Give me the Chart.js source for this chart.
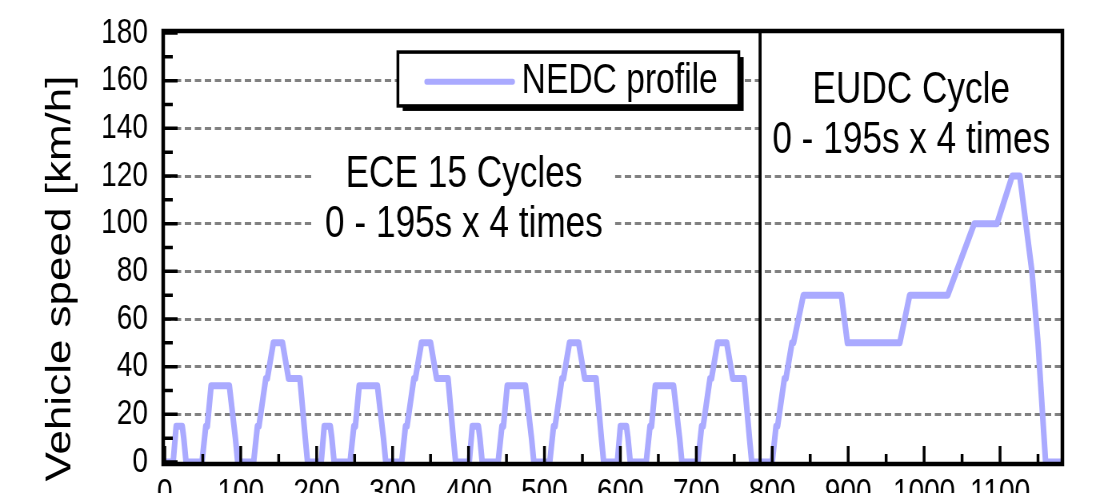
<!DOCTYPE html>
<html lang="en">
<head>
  <meta charset="UTF-8">
  <title>NEDC profile</title>
  <script src="https://cdn.jsdelivr.net/npm/chart.js@4.4.1/dist/chart.umd.min.js"></script>
  <style>
    html, body { margin: 0; padding: 0; background: #fff; overflow: hidden; }
    /* the original figure is squeezed sideways, so draw it wide and squeeze it */
    .squeeze { width: 1373px; height: 493px; transform: scaleX(0.8); transform-origin: 0 0; }
  </style>
</head>
<body>
  <div class="squeeze"><canvas id="nedc" width="1373" height="493"></canvas></div>

  <script>
    // ECE 15 part, four urban cycles: time [s] and speed [km/h] at each corner of the trace
    var eceTime = [
      0, 11, 15, 23, 25, 28, 49, 54, 56, 61, 85, 93, 96, 117, 122, 124, 133, 135, 143, 155, 163, 176, 178, 185, 188,
      195, 206, 210, 218, 220, 223, 244, 249, 251, 256, 280, 288, 291, 312, 317, 319, 328, 330, 338, 350, 358, 371, 373, 380, 383,
      390, 401, 405, 413, 415, 418, 439, 444, 446, 451, 475, 483, 486, 507, 512, 514, 523, 525, 533, 545, 553, 566, 568, 575, 578,
      585, 596, 600, 608, 610, 613, 634, 639, 641, 646, 670, 678, 681, 702, 707, 709, 718, 720, 728, 740, 748, 761, 763, 770, 773
    ];
    var eceSpeed = [
      0, 0, 15, 15, 10, 0, 0, 15, 15, 32, 32, 10, 0, 0, 15, 15, 35, 35, 50, 50, 35, 35, 35, 10, 0,
      0, 0, 15, 15, 10, 0, 0, 15, 15, 32, 32, 10, 0, 0, 15, 15, 35, 35, 50, 50, 35, 35, 35, 10, 0,
      0, 0, 15, 15, 10, 0, 0, 15, 15, 32, 32, 10, 0, 0, 15, 15, 35, 35, 50, 50, 35, 35, 35, 10, 0,
      0, 0, 15, 15, 10, 0, 0, 15, 15, 32, 32, 10, 0, 0, 15, 15, 35, 35, 50, 50, 35, 35, 35, 10, 0
    ];

    // EUDC (extra urban) part
    var eudcTime = [780, 800, 805, 807, 816, 818, 826, 828, 841, 891, 899, 968, 981, 1031, 1066, 1096, 1116, 1126, 1142, 1150, 1160, 1180];
    var eudcSpeed = [0, 0, 15, 15, 35, 35, 50, 50, 70, 70, 50, 50, 70, 70, 100, 100, 120, 120, 80, 50, 0, 0];

    var xTickValues = [0, 100, 200, 300, 400, 500, 600, 700, 800, 900, 1000, 1100];
    var yTickValues = [0, 20, 40, 60, 80, 100, 120, 140, 160, 180];
    var boundaryTime = 784;   // black line between the two parts

    var yTitle = 'Vehicle speed [km/h]';
    var eceCaption = ['ECE 15 Cycles', '0 - 195s x 4 times'];
    var eudcCaption = ['EUDC Cycle', '0 - 195s x 4 times'];

    var FONT = "'Liberation Sans', Arial, sans-serif";
    var LINE_COLOR = '#aaaaff';

    var points = [];
    for (var i = 0; i < eceTime.length; i++) points.push({ x: eceTime[i], y: eceSpeed[i] });
    for (var j = 0; j < eudcTime.length; j++) points.push({ x: eudcTime[j], y: eudcSpeed[j] });

    // frame, inward ticks, captions, axis title and the boxed legend
    var frameAndNotes = {
      id: 'frameAndNotes',
      beforeDatasetsDraw: function (chart) {
        var ctx = chart.ctx, sx = chart.scales.x, sy = chart.scales.y;
        var area = chart.chartArea;
        ctx.save();
        // captions sit on white, hiding the grid behind them
        ctx.fillStyle = '#fff';
        var l = sx.getPixelForValue(195), r = sx.getPixelForValue(593);
        var t = sy.getPixelForValue(135), b = sy.getPixelForValue(89);
        ctx.fillRect(l, t, r - l, b - t);
        l = sx.getPixelForValue(boundaryTime);
        t = sy.getPixelForValue(177); b = sy.getPixelForValue(125);
        ctx.fillRect(l, t, area.right - l, b - t);
        ctx.restore();
      },
      afterDatasetsDraw: function (chart) {
        var ctx = chart.ctx, sx = chart.scales.x, sy = chart.scales.y;
        var area = chart.chartArea;
        ctx.save();
        ctx.strokeStyle = '#000';

        // boundary between ECE and EUDC
        var bx = sx.getPixelForValue(boundaryTime);
        ctx.lineWidth = 3.75;
        ctx.beginPath();
        ctx.moveTo(bx, area.top);
        ctx.lineTo(bx, area.bottom);
        ctx.stroke();

        // inward tick marks
        ctx.lineWidth = 3.5;
        ctx.beginPath();
        for (var v = 0; v <= 180; v += 10) {
          var py = sy.getPixelForValue(v);
          ctx.moveTo(area.left, py);
          ctx.lineTo(area.left + (v % 20 === 0 ? 16 : 10), py);
        }
        for (var s = 0; s <= 1150; s += 50) {
          var px = sx.getPixelForValue(s);
          ctx.moveTo(px, area.bottom);
          ctx.lineTo(px, area.bottom - (s % 100 === 0 ? 16 : 8));
        }
        ctx.stroke();

        // plot frame, outside the data area
        ctx.lineWidth = 4.5;
        ctx.strokeRect(area.left - 2, area.top - 2, area.right - area.left + 4, area.bottom - area.top + 4);

        // y axis title, sits a little below the middle of the axis
        ctx.fillStyle = '#000';
        ctx.save();
        ctx.translate(area.left - 130, sy.getPixelForValue(77));
        ctx.rotate(-Math.PI / 2);
        ctx.font = '44px ' + FONT;
        ctx.textAlign = 'center';
        ctx.textBaseline = 'middle';
        ctx.fillText(yTitle, 0, 0);
        ctx.restore();

        // captions
        ctx.font = '44px ' + FONT;
        ctx.textAlign = 'center';
        ctx.textBaseline = 'alphabetic';
        ctx.fillText(eceCaption[0], sx.getPixelForValue(394), sy.getPixelForValue(115.5));
        ctx.fillText(eceCaption[1], sx.getPixelForValue(394), sy.getPixelForValue(94.6));
        ctx.fillText(eudcCaption[0], sx.getPixelForValue(983), sy.getPixelForValue(150.7));
        ctx.fillText(eudcCaption[1], sx.getPixelForValue(983), sy.getPixelForValue(129.8));

        // legend box with drop shadow
        var l = sx.getPixelForValue(307), r = sx.getPixelForValue(756);
        var t = sy.getPixelForValue(172), b = sy.getPixelForValue(149.4);
        ctx.fillRect(l + 6, t + 5, r - l, b - t);
        ctx.fillStyle = '#fff';
        ctx.fillRect(l, t, r - l, b - t);
        ctx.lineWidth = 3.5;
        ctx.strokeRect(l, t, r - l, b - t);

        var ds = chart.data.datasets[0];
        var ly = sy.getPixelForValue(159.5);
        ctx.strokeStyle = ds.borderColor;
        ctx.lineWidth = 6;
        ctx.lineCap = 'round';
        ctx.beginPath();
        ctx.moveTo(sx.getPixelForValue(345), ly);
        ctx.lineTo(sx.getPixelForValue(458), ly);
        ctx.stroke();

        ctx.fillStyle = '#000';
        ctx.font = '42px ' + FONT;
        ctx.textAlign = 'left';
        ctx.fillText(ds.label, sx.getPixelForValue(470), sy.getPixelForValue(154.9));
        ctx.restore();
      }
    };

    new Chart(document.getElementById('nedc'), {
      type: 'line',
      data: {
        datasets: [{
          label: 'NEDC profile',
          data: points,
          borderColor: LINE_COLOR,
          borderWidth: 7,
          borderJoinStyle: 'round',
          borderCapStyle: 'round',
          pointRadius: 0,
          tension: 0,
          fill: false
        }]
      },
      options: {
        responsive: false,
        animation: false,
        devicePixelRatio: 1,
        layout: { padding: { top: 33, right: 47, bottom: 0, left: 0 } },
        plugins: {
          legend: { display: false },
          tooltip: { enabled: false }
        },
        scales: {
          x: {
            type: 'linear',
            min: 0,
            max: 1180,
            afterBuildTicks: function (scale) {
              scale.ticks = xTickValues.map(function (v) { return { value: v }; });
            },
            afterFit: function (scale) { scale.height = 31; },
            grid: { display: false, drawTicks: false },
            border: { display: false },
            ticks: {
              padding: 10,
              autoSkip: false,
              maxRotation: 0,
              color: '#000',
              font: { family: FONT, size: 35 },
              callback: function (v) { return String(v); }
            }
          },
          y: {
            min: 0,
            max: 180,
            afterBuildTicks: function (scale) {
              scale.ticks = yTickValues.map(function (v) { return { value: v }; });
            },
            afterFit: function (scale) {
              scale.width = 206;
              // the label padding must not push the plot area in from top and bottom
              scale.paddingTop = 21;
              scale.paddingBottom = 21;
            },
            grid: {
              drawTicks: false,
              lineWidth: 3,
              color: function (c) {
                var v = c.tick ? c.tick.value : 0;
                return (v === 0 || v === 180) ? 'rgba(0,0,0,0)' : '#808080';
              }
            },
            border: { display: false, dash: [8, 4.5] },
            ticks: {
              padding: 21,
              color: '#000',
              font: { family: FONT, size: 35 },
              callback: function (v) { return String(v); }
            }
          }
        }
      },
      plugins: [frameAndNotes]
    });
  </script>
</body>
</html>
